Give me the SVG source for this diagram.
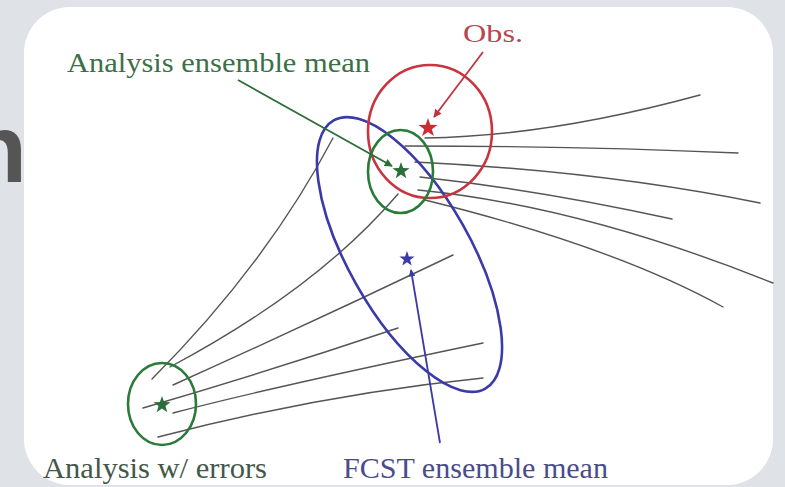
<svg xmlns="http://www.w3.org/2000/svg" width="785" height="487" viewBox="0 0 785 487">
  <style>
    .traj { fill: none; stroke: #555555; stroke-width: 1.4; stroke-linecap: round; }
    .ring { fill: none; stroke-width: 2.6; }
    .lbl { font-family: "Liberation Serif", "Times New Roman", serif; }
    .ptr { fill: none; stroke-width: 1.8; }
  </style>
  <defs>
    <polygon id="star" points="0,-10 2.35,-3.24 9.51,-3.09 3.8,1.24 5.88,8.09 0,4 -5.88,8.09 -3.8,1.24 -9.51,-3.09 -2.35,-3.24"/>
    <marker id="ah-green" viewBox="0 0 10 10" refX="9" refY="5" markerWidth="9" markerHeight="8" markerUnits="userSpaceOnUse" orient="auto">
      <path d="M0,0 L10,5 L0,10 Z" fill="#2a6e3a"/>
    </marker>
    <marker id="ah-red" viewBox="0 0 10 10" refX="9" refY="5" markerWidth="9" markerHeight="8" markerUnits="userSpaceOnUse" orient="auto">
      <path d="M0,0 L10,5 L0,10 Z" fill="#c0343f"/>
    </marker>
    <marker id="ah-blue" viewBox="0 0 10 10" refX="9" refY="5" markerWidth="8" markerHeight="7" markerUnits="userSpaceOnUse" orient="auto">
      <path d="M0,0 L10,5 L0,10 Z" fill="#3a3aa8"/>
    </marker>
  </defs>

  <!-- slide backdrop with the tail of the title peeking out -->
  <rect width="785" height="487" fill="#dfe2e6"/>
  <text x="27" y="182" text-anchor="end" font-family="'Liberation Sans', Arial, sans-serif" font-weight="bold" font-size="96" fill="#555555">n</text>

  <!-- white picture panel -->
  <rect x="24" y="7" width="749" height="478" rx="46" ry="46" fill="#ffffff"/>

  <!-- trajectories -->
  <g id="connectors">
    <!-- from the perturbed analyses to the forecast ensemble -->
    <path class="traj" d="M152,379 Q266,265 333,138"/>
    <path class="traj" d="M170,367 Q317,289 398,194"/>
    <path class="traj" d="M173,385 Q313,322 453,255"/>
    <path class="traj" d="M143,408 Q270,371 398,328"/>
    <path class="traj" d="M173,413 Q272,387 483,343"/>
    <path class="traj" d="M158,437 Q324,394 483,378"/>
    <!-- from the new analysis ensemble onward -->
    <path class="traj" d="M425,138 C500,137 590,125 700,95"/>
    <path class="traj" d="M405,146 Q580,146 738,153"/>
    <path class="traj" d="M415,162 Q602,171 760,203"/>
    <path class="traj" d="M420,177 Q540,190 672,219"/>
    <path class="traj" d="M418,190 Q581,206 773,283"/>
    <path class="traj" d="M425,200 Q615,247 723,307"/>
  </g>

  <!-- analysis with errors -->
  <g id="analysis-errors">
    <ellipse class="ring" cx="162" cy="404" rx="34" ry="41" stroke="#2a7a3a"/>
    <use href="#star" transform="translate(162,405) scale(0.9)" fill="#2a6e3a"/>
    <text class="lbl" x="43" y="478" font-size="29" textLength="224" lengthAdjust="spacingAndGlyphs" fill="#44584a">Analysis w/ errors</text>
  </g>

  <!-- forecast ensemble spread -->
  <g id="fcst-ensemble">
    <ellipse class="ring" cx="409.5" cy="254.5" rx="154" ry="61" transform="rotate(60.5 409.5 254.5)" stroke="#3a3aa8"/>
    <use href="#star" transform="translate(407,259) scale(0.8)" fill="#3a3aa8"/>
    <text class="lbl" x="343" y="478" font-size="29" textLength="265" lengthAdjust="spacingAndGlyphs" fill="#4a4c8a">FCST ensemble mean</text>
  </g>

  <!-- observation -->
  <g id="obs">
    <ellipse class="ring" cx="430" cy="131.5" rx="62" ry="66.5" stroke="#c8343f"/>
    <use href="#star" transform="translate(428,128)" fill="#d02a35"/>
    <text class="lbl" x="463" y="42" font-size="26" textLength="60" lengthAdjust="spacingAndGlyphs" fill="#b8464e">Obs.</text>
  </g>

  <!-- analysis ensemble -->
  <g id="analysis-ensemble">
    <ellipse class="ring" cx="400.5" cy="171.5" rx="32.5" ry="41.5" stroke="#2a7a3a"/>
    <use href="#star" transform="translate(401,171) scale(0.9)" fill="#2a6e3a"/>
    <text class="lbl" x="67" y="72" font-size="28" textLength="303" lengthAdjust="spacingAndGlyphs" fill="#3c7048">Analysis ensemble mean</text>
  </g>

  <!-- label pointers -->
  <g id="pointers">
    <line class="ptr" x1="238" y1="80" x2="392" y2="166" stroke="#2a6e3a" marker-end="url(#ah-green)"/>
    <line class="ptr" x1="483" y1="52" x2="434" y2="117" stroke="#c0343f" marker-end="url(#ah-red)"/>
    <line class="ptr" x1="440" y1="443" x2="411" y2="270" stroke="#3a3aa8" marker-end="url(#ah-blue)"/>
  </g>
</svg>
